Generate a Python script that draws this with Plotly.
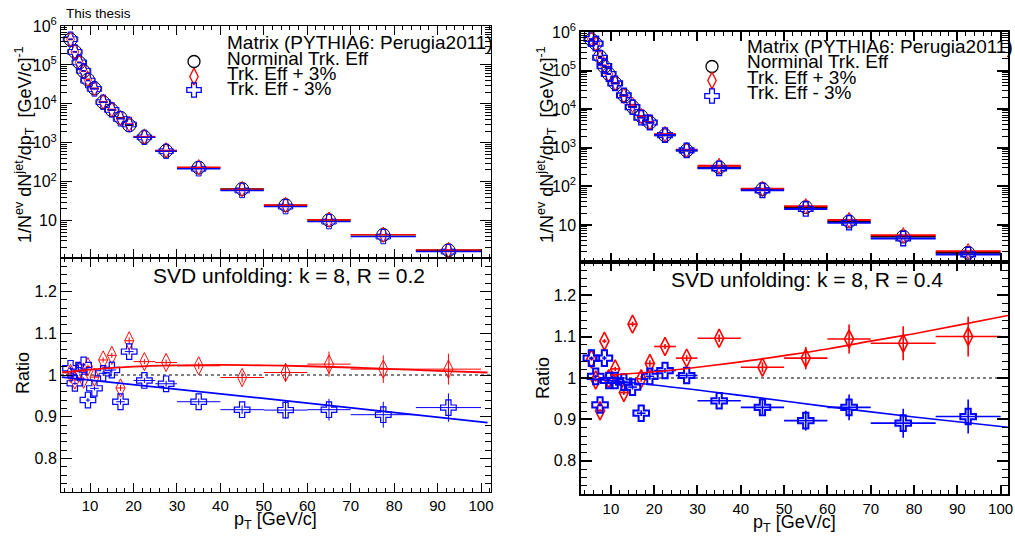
import plotly.graph_objects as go

W, H = 1015, 537
FONT = "Liberation Sans"

# ---------------- data ----------------
pt = [5.5, 6.5, 7.5, 8.5, 9.5, 11, 13, 15, 17, 19, 22.5, 27.5, 35, 45, 55, 65, 77.5, 92.5]
pt_halfwidth = [0.5, 0.5, 0.5, 0.5, 0.5, 1, 1, 1, 1, 1, 2.5, 2.5, 5, 5, 5, 5, 7.5, 7.5]

spec_r02 = [4.5e5, 2.2e5, 1.15e5, 6.9e4, 4.2e4, 2.5e4, 1.1e4, 6.9e3, 4.4e3, 2.8e3,
            1.4e3, 620, 230, 65, 25, 10.3, 4.3, 1.74]
spec_r04 = [6.3e5, 5.0e5, 2.3e5, 1.25e5, 8.2e4, 4.7e4, 2.3e4, 1.15e4, 6.6e3, 4.5e3,
            2.1e3, 850, 310, 85, 29, 12.3, 5.0, 1.9]

ratio_plus_r02 = [1.004, 0.988, 1.010, 0.990, 1.020, 0.995, 1.036, 1.047, 0.969, 1.082,
                  1.032, 1.030, 1.022, 0.994, 1.006, 1.026, 1.014, 1.014]
err_plus_r02 = [0.004, 0.004, 0.004, 0.005, 0.005, 0.005, 0.006, 0.006, 0.007, 0.008,
                0.006, 0.007, 0.008, 0.012, 0.022, 0.030, 0.033, 0.037]
ratio_minus_r02 = [1.016, 0.980, 1.008, 1.024, 0.940, 0.968, 1.004, 1.012, 0.936, 1.056,
                   0.987, 0.979, 0.936, 0.917, 0.916, 0.917, 0.905, 0.922]
err_minus_r02 = [0.004, 0.004, 0.004, 0.005, 0.005, 0.005, 0.006, 0.006, 0.007, 0.008,
                 0.006, 0.007, 0.008, 0.010, 0.021, 0.026, 0.031, 0.034]

ratio_plus_r04 = [1.046, 0.995, 0.921, 1.089, 0.998, 1.022, 0.965, 1.130, 0.998, 1.035,
                  1.076, 1.048, 1.096, 1.026, 1.048, 1.094, 1.084, 1.100]
err_plus_r04 = [0.004, 0.004, 0.004, 0.005, 0.005, 0.005, 0.006, 0.006, 0.007, 0.008,
                0.006, 0.007, 0.009, 0.012, 0.027, 0.035, 0.041, 0.048]
ratio_minus_r04 = [1.048, 1.004, 0.935, 1.048, 0.994, 0.994, 0.990, 0.978, 0.915, 1.004,
                   1.018, 1.006, 0.945, 0.929, 0.897, 0.929, 0.891, 0.907]
err_minus_r04 = [0.004, 0.004, 0.004, 0.005, 0.005, 0.005, 0.006, 0.006, 0.007, 0.008,
                 0.006, 0.007, 0.009, 0.017, 0.024, 0.031, 0.035, 0.041]

# fit curves
fitx_plus_r02 = [3.5, 10, 20, 30, 40, 50, 60, 70, 80, 90, 101.5]
fity_plus_r02 = [1.006, 1.013, 1.020, 1.023, 1.024, 1.023, 1.021, 1.018, 1.014, 1.010, 1.006]
fitx_minus_r02 = [3.5, 50, 101.5]
fity_minus_r02 = [0.995, 0.944, 0.886]
fitx_plus_r04 = [10, 20, 30, 40, 50, 60, 70, 80, 90, 101.7]
fity_plus_r04 = [1.007, 1.015, 1.026, 1.039, 1.054, 1.070, 1.089, 1.107, 1.127, 1.151]
fitx_minus_r04 = [3.1, 20, 40, 60, 80, 101.7]
fity_minus_r04 = [1.000, 0.983, 0.958, 0.931, 0.906, 0.881]

legend_labels = ["Norminal Trk. Eff", "Trk. Eff + 3%", "Trk. Eff - 3%"]
legend_header = "Matrix (PYTHIA6: Perugia2011)"
ytick_vals = [10, 100, 1e3, 1e4, 1e5, 1e6]
ytick_text = ["10", "10<sup>2</sup>", "10<sup>3</sup>", "10<sup>4</sup>", "10<sup>5</sup>", "10<sup>6</sup>"]

# derived spectra for the +/-3% variations (nominal x ratio)
spec_plus_r02 = [a * b for a, b in zip(spec_r02, ratio_plus_r02)]
spec_minus_r02 = [a * b for a, b in zip(spec_r02, ratio_minus_r02)]
spec_plus_r04 = [a * b for a, b in zip(spec_r04, ratio_plus_r04)]
spec_minus_r04 = [a * b for a, b in zip(spec_r04, ratio_minus_r04)]

# ---------------- styles ----------------
RED = "#ff0000"
BLUE = "#0000ff"
sty = {
    "nom": dict(symbol="circle-open", size=13, color="black"),
    "plus": dict(symbol="diamond-tall-open", size=13, color=RED),
    "minus": dict(symbol="cross-open", size=13, color=BLUE),
}
top_size = {"nom": 13, "plus": 11, "minus": 12}

fig = go.Figure()


def add_points(x, y, key, xa, ya, lw, ey=None, ebw=1.0, size=None):
    s = sty[key]
    tr = go.Scatter(
        x=x, y=y, mode="markers", xaxis=xa, yaxis=ya, showlegend=False,
        marker=dict(symbol=s["symbol"], size=size or s["size"], color=s["color"],
                    line=dict(color=s["color"], width=lw)),
        error_x=dict(type="data", array=pt_halfwidth, width=0, thickness=ebw, color=s["color"]),
        cliponaxis=True,
    )
    if ey is not None:
        tr.error_y = dict(type="data", array=ey, width=0, thickness=ebw, color=s["color"])
    fig.add_trace(tr)


panels = [
    dict(xt="x", yt="y", xb="x2", yb="y2",
         nom=spec_r02, sp=spec_plus_r02, sm=spec_minus_r02,
         rp=ratio_plus_r02, ep=err_plus_r02, rm=ratio_minus_r02, em=err_minus_r02,
         fpx=fitx_plus_r02, fpy=fity_plus_r02, fmx=fitx_minus_r02, fmy=fity_minus_r02,
         lw=1.2, tlw=1.0, ebw=1.0, fw=1.8, xr=[3.3, 102.3]),
    dict(xt="x3", yt="y3", xb="x4", yb="y4",
         nom=spec_r04, sp=spec_plus_r04, sm=spec_minus_r04,
         rp=ratio_plus_r04, ep=err_plus_r04, rm=ratio_minus_r04, em=err_minus_r04,
         fpx=fitx_plus_r04, fpy=fity_plus_r04, fmx=fitx_minus_r04, fmy=fity_minus_r04,
         lw=2.0, tlw=1.4, ebw=1.6, fw=1.6, xr=[3.1, 101.7]),
]

for p in panels:
    add_points(pt, p["nom"], "nom", p["xt"], p["yt"], 1.0, ebw=p["ebw"] + 0.4, size=top_size["nom"])
    add_points(pt, p["sp"], "plus", p["xt"], p["yt"], 1.0, ebw=p["ebw"] + 0.4, size=top_size["plus"])
    add_points(pt, p["sm"], "minus", p["xt"], p["yt"], p["tlw"], ebw=p["ebw"] + 0.4, size=top_size["minus"])
    fig.add_trace(go.Scatter(x=p["xr"], y=[1, 1], mode="lines", xaxis=p["xb"], yaxis=p["yb"],
                             showlegend=False, line=dict(color="black", width=1, dash="dot")))
    add_points(pt, p["rp"], "plus", p["xb"], p["yb"], p["lw"] * 0.8, ey=p["ep"], ebw=p["ebw"])
    add_points(pt, p["rm"], "minus", p["xb"], p["yb"], p["lw"], ey=p["em"], ebw=p["ebw"])
    fig.add_trace(go.Scatter(x=p["fpx"], y=p["fpy"], mode="lines", xaxis=p["xb"], yaxis=p["yb"],
                             showlegend=False, line=dict(color=RED, width=p["fw"], shape="spline")))
    fig.add_trace(go.Scatter(x=p["fmx"], y=p["fmy"], mode="lines", xaxis=p["xb"], yaxis=p["yb"],
                             showlegend=False, line=dict(color=BLUE, width=p["fw"], shape="spline")))

# ---------------- legends (drawn on a pixel overlay axis) ----------------
legend_boxes = [
    dict(mx=194, tx=225, hy=43, rows=[58, 74, 88], my=[61.5, 76.5, 90]),
    dict(mx=712, tx=745, hy=47, rows=[62, 78, 93], my=[66.5, 80.5, 96]),
]
keys = ["nom", "plus", "minus"]
for lb in legend_boxes:
    for k, yy in zip(keys, lb["my"]):
        s = sty[k]
        fig.add_trace(go.Scatter(x=[lb["mx"]], y=[yy], mode="markers", xaxis="x5", yaxis="y5",
                                 showlegend=False, cliponaxis=False,
                                 marker=dict(symbol=s["symbol"], size=12, color=s["color"],
                                             line=dict(color=s["color"], width=1.3))))

annotations = []


def ann(text, x, y, size, angle=0, xanchor="center", yanchor="middle"):
    annotations.append(dict(text=text, x=x / W, y=1 - y / H, xref="paper", yref="paper",
                            showarrow=False, textangle=angle, xanchor=xanchor, yanchor=yanchor,
                            font=dict(family=FONT, size=size, color="black")))


for lb in legend_boxes:
    ann(legend_header, lb["tx"], lb["hy"], 19, xanchor="left")
    for lab, yy in zip(legend_labels, lb["rows"]):
        ann(lab, lb["tx"], yy, 19, xanchor="left")

ann("This thesis", 64, 13, 13.5, xanchor="left")
ann("SVD unfolding: k = 8, R = 0.2", 289, 275, 21)
ann("SVD unfolding: k = 8, R = 0.4", 807, 279, 21)
ytitle = "1/N<sup>ev</sup> dN<sup>jet</sup>/dp<sub>T</sub>  [GeV/c]<sup>-1</sup>"
ann(ytitle, 24, 145, 18, angle=-90)
ann(ytitle, 546, 145, 18, angle=-90)
ann("Ratio", 23, 373, 18, angle=-90)
ann("Ratio", 543, 378, 18, angle=-90)
ann("p<sub>T</sub> [GeV/c]", 275, 520, 18)
ann("p<sub>T</sub> [GeV/c]", 794, 523, 18)


# ---------------- axes ----------------
def px_dom_x(a, b):
    return [a / W, b / W]


def px_dom_y(top, bot):
    return [1 - bot / H, 1 - top / H]


tickfont = dict(family=FONT, size=15, color="black")


def xaxis(dom, rng, anchor, labels, lw):
    return dict(domain=dom, range=rng, anchor=anchor, showline=True, linecolor="black", linewidth=lw,
                mirror="allticks", ticks="inside", ticklen=9, tickwidth=lw, tickcolor="black",
                tickmode="linear", tick0=0, dtick=10, showticklabels=labels, tickfont=tickfont,
                minor=dict(ticks="inside", ticklen=4, tickmode="linear", tick0=0, dtick=2,
                           tickcolor="black", tickwidth=1),
                showgrid=False, zeroline=False, automargin=False)


minor_log = [k * 10 ** d for d in range(0, 6) for k in range(2, 10)]


def ylog(dom, anchor, lw):
    return dict(domain=dom, type="log", range=[0.04, 6], anchor=anchor, showline=True,
                linecolor="black", linewidth=lw, mirror="allticks", ticks="inside", ticklen=11,
                tickwidth=lw, tickcolor="black", tickmode="array", tickvals=ytick_vals,
                ticktext=ytick_text, tickfont=dict(family=FONT, size=16, color="black"),
                minor=dict(ticks="inside", ticklen=6, tickmode="array", tickvals=minor_log,
                           tickcolor="black", tickwidth=1),
                showgrid=False, zeroline=False, automargin=False)


def yratio(dom, anchor, lw):
    return dict(domain=dom, range=[0.72, 1.28], anchor=anchor, showline=True, linecolor="black",
                linewidth=lw, mirror="allticks", ticks="inside", ticklen=11, tickwidth=lw,
                tickcolor="black", tickmode="linear", tick0=0, dtick=0.1,
                tickfont=dict(family=FONT, size=16, color="black"),
                minor=dict(ticks="inside", ticklen=6, tickmode="linear", tick0=0, dtick=0.02,
                           tickcolor="black", tickwidth=1),
                showgrid=False, zeroline=False, automargin=False)


fig.update_layout(
    width=W, height=H, margin=dict(l=0, r=0, t=0, b=0, pad=0, autoexpand=False),
    paper_bgcolor="white", plot_bgcolor="rgba(0,0,0,0)",
    font=dict(family=FONT, color="black"),
    showlegend=False,
    xaxis=xaxis(px_dom_x(61, 491), panels[0]["xr"], "y", False, 1),
    yaxis=ylog(px_dom_y(26, 258), "x", 1),
    xaxis2=xaxis(px_dom_x(61, 491), panels[0]["xr"], "y2", True, 1),
    yaxis2=yratio(px_dom_y(258, 492), "x2", 1),
    xaxis3=xaxis(px_dom_x(581, 1008), panels[1]["xr"], "y3", False, 1.5),
    yaxis3=ylog(px_dom_y(32, 262), "x3", 1.5),
    xaxis4=xaxis(px_dom_x(581, 1008), panels[1]["xr"], "y4", True, 1.5),
    yaxis4=yratio(px_dom_y(262, 494), "x4", 1.5),
    xaxis5=dict(domain=[0, 1], range=[0, W], anchor="y5", visible=False, fixedrange=True,
                automargin=False),
    yaxis5=dict(domain=[0, 1], range=[H, 0], anchor="x5", visible=False, fixedrange=True,
                automargin=False),
    annotations=annotations,
)

POST = ("document.documentElement.style.overflow='hidden';"
        "document.body.style.margin='0';document.body.style.overflow='hidden';"
        "var d=document.querySelector('.plotly-graph-div');"
        "d.style.position='fixed';d.style.left='0px';d.style.top='0px';")

fig.write_html("out.html", config={"displayModeBar": False}, post_script=POST)
